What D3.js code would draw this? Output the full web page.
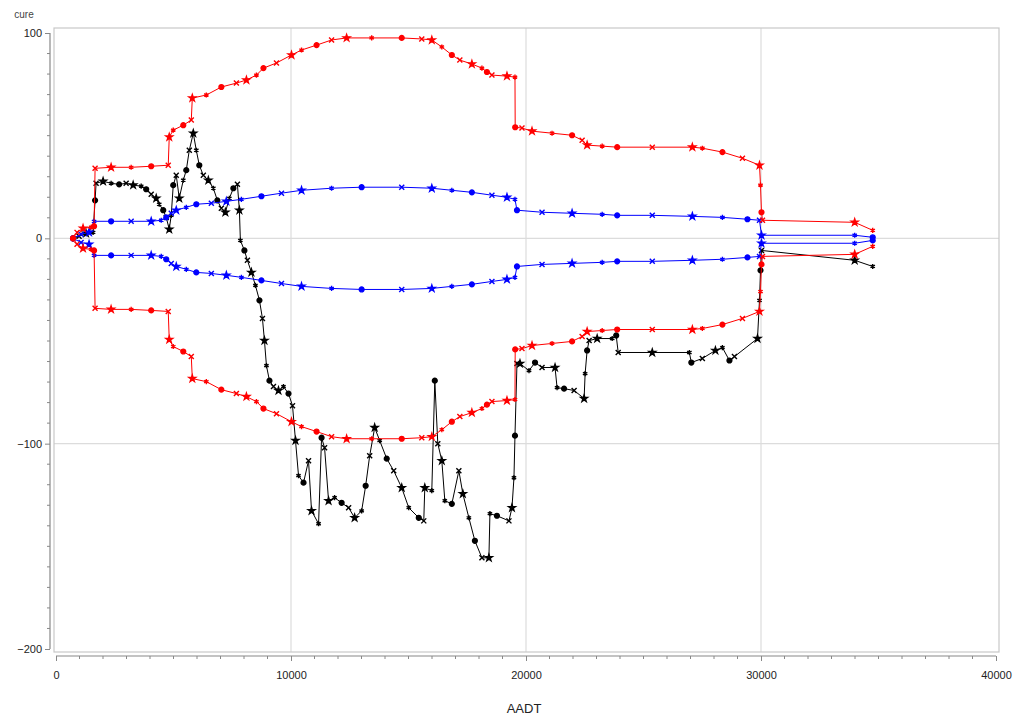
<!DOCTYPE html>
<html>
<head>
<meta charset="utf-8">
<script src="https://cdn.jsdelivr.net/npm/d3@7"></script>
<style>
  body { margin: 0; background: #fff; }
  svg { display: block; font-family: "Liberation Sans", Arial, sans-serif; }
</style>
</head>
<body>
<div id="chart"></div>
<script>
// AADT values and cumulative residuals
var cureAadt = [725, 981, 1279, 1578, 1663, 1706, 2004, 2345, 2687, 2985, 3284, 3625, 3838, 4051, 4264, 4392, 4563, 4691, 4819, 4904,
  4989, 5117, 5245, 5416, 5544, 5672, 5842, 5970, 6098, 6269, 6482, 6695, 6866, 7036, 7207, 7377, 7548, 7719, 7804, 7846,
  8017, 8145, 8316, 8486, 8657, 8785, 8870, 8955, 9083, 9254, 9467, 9680, 9893, 10064, 10192, 10320, 10533, 10746, 10874, 11173,
  11301, 11429, 11599, 11855, 12154, 12452, 12708, 13006, 13177, 13348, 13561, 13774, 14073, 14371, 14712, 15011, 15437, 15650, 15693, 15992,
  16119, 16247, 16418, 16546, 16844, 17143, 17313, 17569, 17825, 18124, 18422, 18465, 18763, 19275, 19403, 19488, 19531, 19616, 19744, 20128,
  20384, 20682, 21236, 21322, 21620, 22047, 22473, 22516, 22601, 22686, 23028, 23667, 23838, 23923, 25373, 26951, 27036, 27505, 28060, 28358,
  28657, 28870, 29851, 29936, 29979, 30021, 33987, 34754];
var cure = [0, 1.0, 2.4, 2.9, 18.5, 26.8, 27.8, 26.8, 26.3, 26.8, 25.9, 25.4, 23.9, 21.5, 19.5, 16.6, 13.7, 10.2, 4.4, 11.2,
  25.9, 30.7, 19.5, 28.3, 33.2, 42.9, 51.2, 42.9, 35.6, 30.7, 28.3, 24.4, 18.5, 14.6, 12.7, 19.5, 24.4, 26.3, 13.7, -1.0,
  -5.9, -10.7, -16.6, -22.9, -30.2, -39.0, -49.8, -62.0, -69.3, -72.2, -74.1, -72.2, -75.6, -81.5, -98.5, -115.6, -119.0, -108.3, -132.7, -139.0,
  -97.1, -102.0, -127.8, -126.3, -128.8, -131.2, -136.1, -132.7, -120.5, -105.9, -92.2, -98.5, -107.3, -113.2, -121.5, -131.2, -136.1, -137.6, -121.5, -122.9,
  -69.3, -100.0, -108.3, -127.8, -129.3, -113.2, -124.4, -136.1, -147.3, -155.6, -155.6, -134.1, -135.1, -137.6, -131.2, -116.6, -96.1, -61.0, -61.0, -64.4,
  -60.5, -62.9, -62.9, -72.7, -73.2, -74.1, -78.0, -65.9, -54.6, -49.8, -48.8, -48.8, -47.3, -55.6, -55.6, -55.6, -60.5, -58.5, -54.6, -53.2,
  -59.5, -57.6, -48.8, -30.2, -15.6, -5.9, -10.7, -13.7];

// outer bounds (red)
var outerAadt = [725, 895, 1151, 1493, 1620, 1663, 2345, 3198, 4051, 4776, 4819, 4989, 5416, 5757, 5800, 6397, 7036, 7676, 8103, 8529,
  8827, 9382, 10021, 10448, 11088, 11727, 12367, 13433, 14712, 15565, 15992, 16418, 16844, 17185, 17697, 18124, 18337, 18550, 19190, 19531,
  19540, 19829, 20256, 21108, 21961, 22388, 22601, 23241, 23880, 25373, 27079, 27505, 28358, 29211, 29936, 29979, 30021, 30064, 33987, 34754];
var outerUpper = [0, 2.9, 4.9, 5.4, 5.9, 34.1, 34.6, 34.6, 35.1, 35.6, 49.3, 52.7, 55.1, 57.6, 68.3, 69.8, 73.7, 75.6, 77.1, 79.5,
  82.9, 85.4, 89.3, 91.7, 94.1, 96.6, 97.6, 97.6, 97.6, 97.1, 96.6, 93.2, 89.3, 86.8, 84.9, 82.9, 81.0, 79.5, 79.0, 78.5,
  54.1, 53.7, 52.2, 51.2, 50.2, 47.8, 45.4, 44.9, 44.4, 44.4, 44.4, 43.9, 42.0, 39.0, 35.6, 25.9, 12.7, 8.8, 7.8, 3.9];
var outerLower = [0, -2.9, -4.9, -5.4, -5.9, -34.1, -34.6, -34.6, -35.1, -35.6, -49.3, -52.7, -55.1, -57.6, -68.3, -69.8, -73.7, -75.6, -77.1, -79.5,
  -82.9, -85.4, -89.3, -91.7, -94.1, -96.6, -97.6, -97.6, -97.6, -97.1, -96.6, -93.2, -89.3, -86.8, -84.9, -82.9, -81.0, -79.5, -79.0, -78.5,
  -54.1, -53.7, -52.2, -51.2, -50.2, -47.8, -45.4, -44.9, -44.4, -44.4, -44.4, -43.9, -42.0, -39.0, -35.6, -25.9, -12.7, -8.8, -7.8, -3.9];

// inner bounds (blue)
var innerAadt = [725, 1066, 1407, 1620, 2345, 3198, 4051, 4478, 4691, 4904, 5117, 5544, 5970, 6610, 7249, 7889, 8742, 9595, 10448, 11727,
  13006, 14712, 15992, 16844, 17697, 18550, 19190, 19531, 19616, 20682, 21961, 23241, 23880, 25373, 27079, 28358, 29424, 29936, 30021, 33987, 34754];
var innerUpper = [0, 2.0, 2.9, 8.3, 8.3, 8.3, 8.3, 8.8, 10.2, 12.2, 13.7, 15.1, 16.6, 17.1, 18.0, 19.0, 20.5, 22.0, 23.4, 24.4,
  24.9, 24.9, 24.4, 23.4, 22.4, 21.0, 20.0, 19.0, 13.7, 12.7, 12.2, 11.7, 11.2, 11.2, 10.7, 10.2, 9.3, 8.8, 1.5, 1.5, 0.5];
var innerLower = [0, -2.0, -2.9, -8.3, -8.3, -8.3, -8.3, -8.8, -10.2, -12.2, -13.7, -15.1, -16.6, -17.1, -18.0, -19.0, -20.5, -22.0, -23.4, -24.4,
  -24.9, -24.9, -24.4, -23.4, -22.4, -21.0, -20.0, -19.0, -13.7, -12.7, -12.2, -11.7, -11.2, -11.2, -10.7, -10.2, -9.3, -8.8, -2.4, -2.4, -1.0];

var xTicks = [0, 10000, 20000, 30000, 40000];
var yTicks = [100, 0, -100, -200];

var W = 1020, H = 724;
var frame = { left: 54, top: 28, right: 999, bottom: 652 };

var x = d3.scaleLinear().domain([0, 40000]).range([56, 996]);
var y = d3.scaleLinear().domain([-200, 100]).range([649, 33]);

var svg = d3.select("#chart").append("svg")
    .attr("width", W)
    .attr("height", H);

// grid
svg.append("g").selectAll("line")
    .data([10000, 20000, 30000])
    .enter().append("line")
    .attr("x1", function (d) { return x(d); })
    .attr("x2", function (d) { return x(d); })
    .attr("y1", frame.top).attr("y2", frame.bottom)
    .attr("stroke", "#dcdcdc").attr("stroke-width", 1.2);
svg.append("g").selectAll("line")
    .data([0, -100])
    .enter().append("line")
    .attr("y1", function (d) { return y(d); })
    .attr("y2", function (d) { return y(d); })
    .attr("x1", frame.left).attr("x2", frame.right)
    .attr("stroke", "#dcdcdc").attr("stroke-width", 1.2);

svg.append("rect")
    .attr("x", frame.left).attr("y", frame.top)
    .attr("width", frame.right - frame.left)
    .attr("height", frame.bottom - frame.top)
    .attr("fill", "none").attr("stroke", "#c8c8c8").attr("stroke-width", 1.2);

// axes
var xAxis = d3.axisBottom(x).tickValues(xTicks).tickSize(5).tickFormat(d3.format("d"));
var gx = svg.append("g").attr("transform", "translate(0,656)").call(xAxis);
var xMinor = d3.range(0, 40001, 1000).filter(function (d) { return d % 10000 !== 0; });
gx.selectAll(".minor").data(xMinor).enter().append("line")
    .attr("class", "minor")
    .attr("x1", function (d) { return x(d); }).attr("x2", function (d) { return x(d); })
    .attr("y1", 0).attr("y2", 3);

var yAxis = d3.axisLeft(y).tickValues(yTicks).tickSize(5).tickFormat(d3.format("d"));
var gy = svg.append("g").attr("transform", "translate(50,0)").call(yAxis);
var yMinor = d3.range(-200, 101, 10).filter(function (d) { return d % 100 !== 0; });
gy.selectAll(".minor").data(yMinor).enter().append("line")
    .attr("class", "minor")
    .attr("y1", function (d) { return y(d); }).attr("y2", function (d) { return y(d); })
    .attr("x1", 0).attr("x2", -3);

[gx, gy].forEach(function (g) {
    g.selectAll(".domain").attr("stroke", "#888").attr("stroke-width", 1.2);
    g.selectAll("line").attr("stroke", "#888");
    g.selectAll("text").attr("fill", "#222").style("font-size", "11px");
});
gx.select(".domain").attr("d", "M" + x(0) + ",0H" + x(40000));
gy.select(".domain").attr("d", "M0," + y(-200) + "V" + y(100));
gx.selectAll(".tick text").attr("dy", "1.4em");

svg.append("text")
    .attr("x", 524).attr("y", 713)
    .attr("text-anchor", "middle")
    .style("font-size", "13px").attr("fill", "#222")
    .text("AADT");
svg.append("text")
    .attr("x", 24).attr("y", 18)
    .attr("text-anchor", "middle")
    .style("font-size", "10px").attr("fill", "#444")
    .text("cure");

// series
var plot = svg.append("g");
var symTypes = [d3.symbolCircle, d3.symbolTimes, d3.symbolStar, d3.symbolAsterisk];

function drawSeries(xs, ys, color) {
    var pts = xs.map(function (v, i) { return [v, ys[i]]; });
    plot.append("path")
        .datum(pts)
        .attr("fill", "none")
        .attr("stroke", color)
        .attr("stroke-width", 1)
        .attr("d", d3.line()
            .x(function (d) { return x(d[0]); })
            .y(function (d) { return y(d[1]); }));
    plot.append("g").selectAll("path")
        .data(pts)
        .enter().append("path")
        .attr("transform", function (d) { return "translate(" + x(d[0]) + "," + y(d[1]) + ")"; })
        .attr("d", function (d, i) {
            var t = symTypes[i % symTypes.length];
            return d3.symbol().type(t).size(t === d3.symbolStar ? 14 : 18)();
        })
        .attr("fill", function (d, i) { return (i % 4 === 0 || i % 4 === 2) ? color : "none"; })
        .attr("stroke", color)
        .attr("stroke-width", 1.4);
}

drawSeries(cureAadt, cure, "#000000");
drawSeries(innerAadt, innerUpper, "#0000ff");
drawSeries(innerAadt, innerLower, "#0000ff");
drawSeries(outerAadt, outerUpper, "#ff0000");
drawSeries(outerAadt, outerLower, "#ff0000");
</script>
</body>
</html>
